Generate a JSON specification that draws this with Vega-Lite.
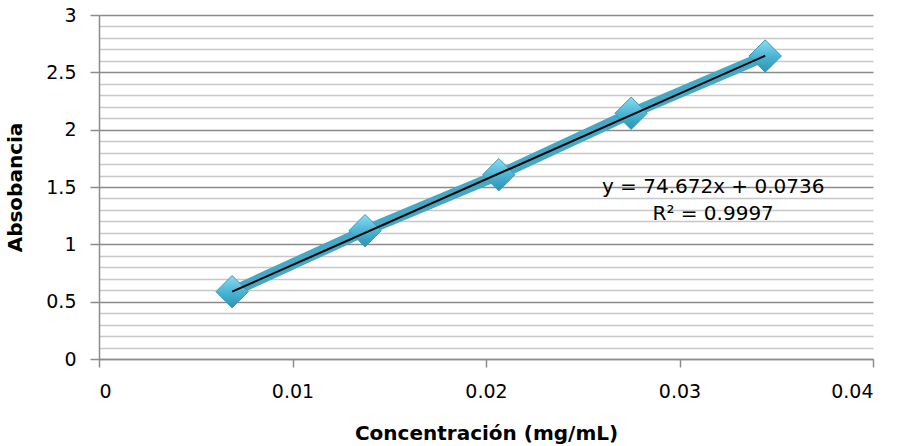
{
  "$schema": "https://vega.github.io/schema/vega-lite/v6.json",
  "autosize": "none",
  "width": 774,
  "height": 344,
  "padding": {"left": 99, "top": 15, "right": 28, "bottom": 87},
  "background": "white",
  "config": {"view": {"stroke": null}, "font": "DejaVu Sans"},
  "datasets": {
    "pts": [
      {"conc": 0.00688, "abs": 0.587},
      {"conc": 0.01375, "abs": 1.119},
      {"conc": 0.02066, "abs": 1.607},
      {"conc": 0.0275, "abs": 2.143},
      {"conc": 0.03443, "abs": 2.642}
    ],
    "trend": [
      {"conc": 0.00688, "abs": 0.587},
      {"conc": 0.03443, "abs": 2.645}
    ],
    "eq": [
      {"conc": 0.03174, "abs": 1.5, "label": "y = 74.672x + 0.0736"},
      {"conc": 0.03174, "abs": 1.265, "label": "R² = 0.9997"}
    ]
  },
  "resolve": {"axis": {"y": "independent", "x": "independent"}},
  "layer": [
    {
      "data": {"name": "pts"},
      "mark": {"type": "line", "strokeWidth": 10, "color": "#45a9c6", "opacity": 0},
      "encoding": {
        "x": {"field": "conc", "type": "quantitative", "scale": {"domain": [0, 0.04], "nice": false},
          "axis": {"values": [0, 0.01, 0.02, 0.03, 0.04], "grid": false, "labels": false, "ticks": false, "domain": false, "title": null}},
        "y": {"field": "abs", "type": "quantitative", "scale": {"domain": [0, 3], "nice": false},
          "axis": {"orient": "left", "values": [0.1,0.2,0.3,0.4,0.6,0.7,0.8,0.9,1.1,1.2,1.3,1.4,1.6,1.7,1.8,1.9,2.1,2.2,2.3,2.4,2.6,2.7,2.8,2.9],
            "grid": true, "gridColor": "#c8c8c8", "gridWidth": 1.5, "gridOpacity": 1, "labels": false, "ticks": false, "domain": false, "title": null}}
      }
    },
    {
      "data": {"name": "pts"},
      "mark": {"type": "line", "strokeWidth": 11, "color": "#45a9c6"},
      "encoding": {
        "x": {"field": "conc", "type": "quantitative", "scale": {"domain": [0, 0.04], "nice": false},
          "axis": {"orient": "bottom", "values": [0, 0.01, 0.02, 0.03, 0.04], "format": "~g", "grid": false,
            "domainColor": "#8c8c8c", "domainWidth": 1.5, "tickColor": "#8c8c8c", "tickWidth": 1.5, "tickSize": 8,
            "labelFontSize": 19, "labelColor": "#000000", "labelPadding": 15, "labelFont": "DejaVu Sans",
            "title": "Concentración (mg/mL)", "titleFont": "DejaVu Sans", "titleFontWeight": "bold", "titleFontSize": 20, "titleColor": "#000000", "titlePadding": 22}},
        "y": {"field": "abs", "type": "quantitative", "scale": {"domain": [0, 3], "nice": false},
          "axis": {"orient": "left", "values": [0, 0.5, 1, 1.5, 2, 2.5, 3], "format": "~g", "grid": true, "gridColor": "#8a8a8a", "gridWidth": 1.5, "gridOpacity": 1,
            "domainColor": "#8c8c8c", "domainWidth": 1.5, "tickColor": "#8c8c8c", "tickWidth": 1.5, "tickSize": 9,
            "labelFontSize": 19, "labelColor": "#000000", "labelPadding": 14, "labelFont": "DejaVu Sans",
            "title": "Absobancia", "titleFont": "DejaVu Sans", "titleFontWeight": "bold", "titleFontSize": 20, "titleColor": "#000000", "titlePadding": 20}}
      }
    },
    {
      "data": {"name": "pts"},
      "mark": {"type": "point", "shape": "diamond", "size": 1050, "filled": true, "opacity": 1,
        "color": {"gradient": "linear", "x1": 0, "y1": 0, "x2": 0, "y2": 1, "stops": [{"offset": 0, "color": "#8ddcf2"}, {"offset": 0.5, "color": "#4bb6d4"}, {"offset": 1, "color": "#2b92b2"}]},
        "stroke": "#3a9cbb", "strokeWidth": 1},
      "encoding": {
        "x": {"field": "conc", "type": "quantitative", "axis": null},
        "y": {"field": "abs", "type": "quantitative", "axis": null}
      }
    },
    {
      "data": {"name": "trend"},
      "mark": {"type": "line", "strokeWidth": 2, "color": "#000000"},
      "encoding": {
        "x": {"field": "conc", "type": "quantitative", "axis": null},
        "y": {"field": "abs", "type": "quantitative", "axis": null}
      }
    },
    {
      "data": {"name": "eq"},
      "mark": {"type": "text", "fontSize": 20, "font": "DejaVu Sans", "color": "#000000", "align": "center", "baseline": "middle"},
      "encoding": {
        "x": {"field": "conc", "type": "quantitative", "axis": null},
        "y": {"field": "abs", "type": "quantitative", "axis": null},
        "text": {"field": "label"}
      }
    }
  ]
}
